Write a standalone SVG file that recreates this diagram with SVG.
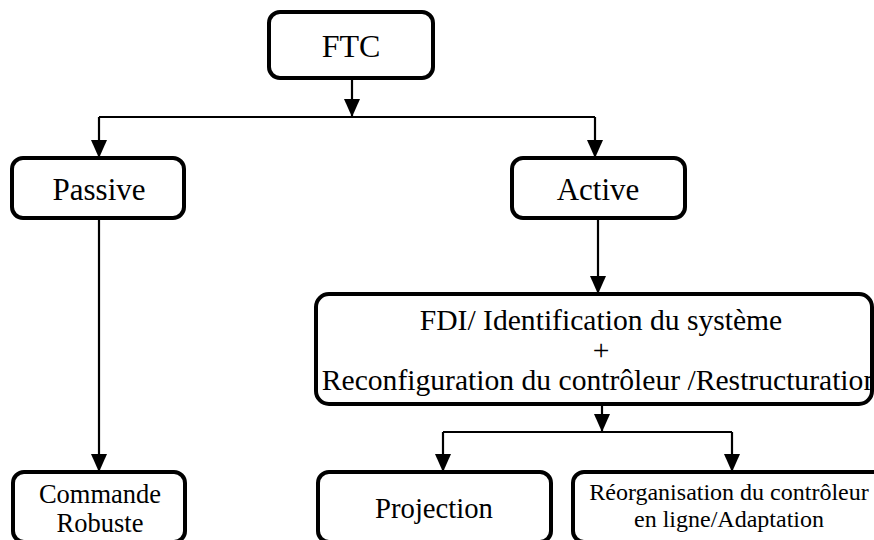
<svg xmlns="http://www.w3.org/2000/svg" width="874" height="540" viewBox="0 0 874 540">
  <defs>
    <marker id="arrowDown" viewBox="0 0 16 18" refX="8" refY="18" markerWidth="16" markerHeight="18" markerUnits="userSpaceOnUse" orient="0">
      <path d="M0,0 L16,0 L8,18 Z" fill="#000"/>
    </marker>
  </defs>
  <style>
    .box { fill: #fff; stroke: #000; stroke-width: 4; }
    .wire { fill: none; stroke: #000; stroke-width: 2.2; }
    .arr { marker-end: url(#arrowDown); }
    .lbl { fill: #000; text-anchor: middle; font-family: "Liberation Serif", "Times New Roman", serif; }
    .big { font-size: 31px; }
    .mid { font-size: 29.6px; }
  </style>
  <rect width="874" height="540" fill="#fff"/>

  <!-- connectors -->
  <g id="connectors">
    <path class="wire arr" d="M352,78 V117"/>
    <path class="wire" d="M99,117 H595"/>
    <path class="wire arr" d="M99,117 V158"/>
    <path class="wire arr" d="M595,117 V158"/>
    <path class="wire arr" d="M598,218 V294"/>
    <path class="wire arr" d="M99,218 V472"/>
    <path class="wire arr" d="M602,404 V432"/>
    <path class="wire" d="M443,432 H732"/>
    <path class="wire arr" d="M443,432 V472"/>
    <path class="wire arr" d="M732,432 V472"/>
  </g>

  <!-- nodes -->
  <g id="ftc">
    <rect class="box" x="269" y="12" width="164" height="66" rx="11"/>
    <text class="lbl" x="351" y="57" font-size="32">FTC</text>
  </g>
  <g id="passive">
    <rect class="box" x="12" y="158" width="172" height="60" rx="11"/>
    <text class="lbl big" x="99" y="200">Passive</text>
  </g>
  <g id="active">
    <rect class="box" x="512" y="158" width="173" height="60" rx="11"/>
    <text class="lbl big" x="598" y="200">Active</text>
  </g>
  <g id="fdi">
    <rect class="box" x="316" y="294" width="556" height="110" rx="13"/>
    <text class="lbl mid" x="601" y="330">FDI/ Identification du système</text>
    <text class="lbl mid" x="601" y="360">+</text>
    <text class="lbl mid" x="600" y="390">Reconfiguration du contrôleur /Restructuration</text>
  </g>
  <g id="commande">
    <rect class="box" x="13" y="472" width="172" height="70" rx="11"/>
    <text class="lbl" x="100" y="503" font-size="26.5">Commande</text>
    <text class="lbl" x="100" y="532" font-size="26.5">Robuste</text>
  </g>
  <g id="projection">
    <rect class="box" x="318" y="472" width="233" height="70" rx="11"/>
    <text class="lbl" x="434" y="518" font-size="28.7">Projection</text>
  </g>
  <g id="reorganisation">
    <rect class="box" x="573" y="472" width="320" height="70" rx="11"/>
    <text class="lbl" x="729" y="500" font-size="24">Réorganisation du contrôleur</text>
    <text class="lbl" x="729" y="527" font-size="24">en ligne/Adaptation</text>
  </g>
</svg>
